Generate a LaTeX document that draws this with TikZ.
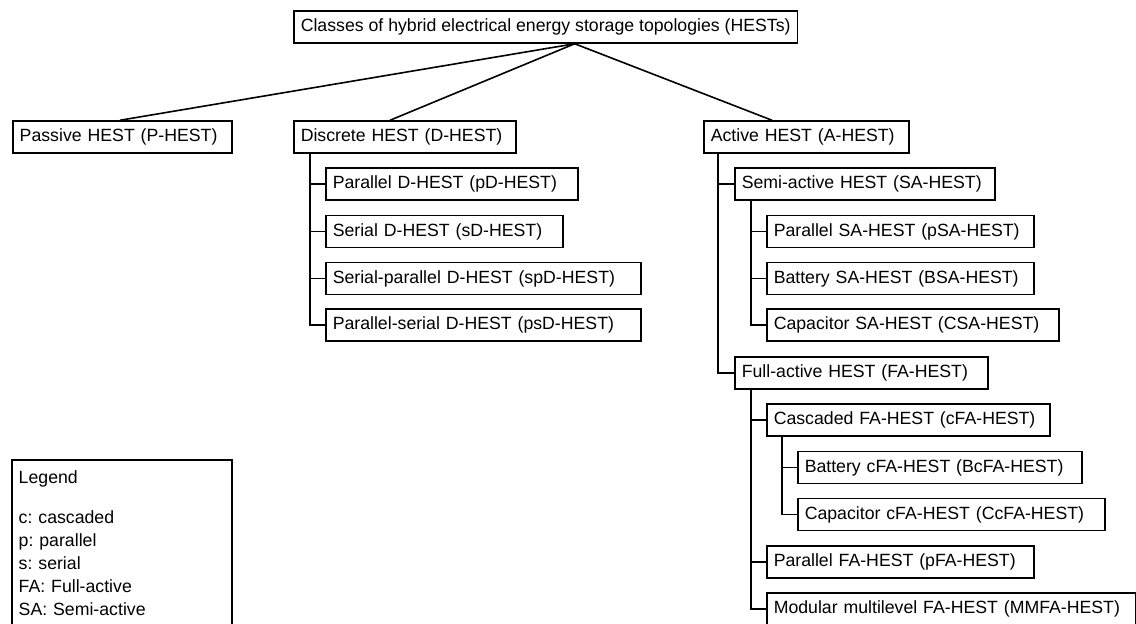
\documentclass[tikz,border=0pt]{standalone}
\usepackage{fontspec}
\setmainfont{Liberation Sans}
\frenchspacing

\begin{document}
\begin{tikzpicture}[x=0.5pt,y=-0.5pt,
                    every node/.style={font=\fontsize{8.85pt}{11.5pt}\selectfont},
                    hbox/.style={draw,line width=0.75pt,anchor=west,align=left,
                                 minimum height=16pt,inner xsep=3.5pt,inner ysep=0pt},
                    link/.style={line width=0.8pt}]
      \clip (0,0) rectangle (1136,623);
      % top level
      \node[hbox] (root) at (293,27)
        {Classes of hybrid electrical energy storage topologies (HESTs)};
      \node[hbox,text width=102.5pt] (passive) at (12,137) {Passive HEST (P-HEST)};
      \node[hbox,text width=104pt] (discrete) at (293,137) {Discrete HEST (D-HEST)};
      \node[hbox,text width=95.5pt] (active) at (703,137) {Active HEST (A-HEST)};
      % discrete branch
      \node[hbox,text width=119pt] (pD) at (325,184) {Parallel D-HEST (pD-HEST)};
      \node[hbox,text width=111.5pt] (sD) at (325,231.5) {Serial D-HEST (sD-HEST)};
      \node[hbox,text width=150.5pt] (spD) at (325,278.5)
        {Serial-parallel D-HEST (spD-HEST)};
      \node[hbox,text width=150.5pt] (psD) at (325,325)
        {Parallel-serial D-HEST (psD-HEST)};
      % active branch
      \node[hbox,text width=123pt] (SA) at (734,184) {Semi-active HEST (SA-HEST)};
      \node[hbox,text width=126.5pt] (pSA) at (766,231.5) {Parallel SA-HEST (pSA-HEST)};
      \node[hbox,text width=126.5pt] (BSA) at (766,278.5) {Battery SA-HEST (BSA-HEST)};
      \node[hbox,text width=139pt] (CSA) at (766,325) {Capacitor SA-HEST (CSA-HEST)};
      \node[hbox,text width=119.5pt] (FA) at (734,373) {Full-active HEST (FA-HEST)};
      \node[hbox,text width=134.5pt] (cFA) at (766,420) {Cascaded FA-HEST (cFA-HEST)};
      \node[hbox,text width=135pt] (BcFA) at (797,467.5) {Battery cFA-HEST (BcFA-HEST)};
      \node[hbox,text width=146.5pt] (CcFA) at (797,514.5)
        {Capacitor cFA-HEST (CcFA-HEST)};
      \node[hbox,text width=126.5pt] (pFA) at (766,562) {Parallel FA-HEST (pFA-HEST)};
      \node[hbox,text width=177.5pt] (MMFA) at (766,609)
        {Modular multilevel FA-HEST (MMFA-HEST)};
      % legend
      \node[draw,line width=0.75pt,anchor=north west,align=left,text width=103pt,
            inner xsep=3.5pt,inner ysep=5.5pt] (legend) at (11,459)
        {Legend\\[8.5pt]c: cascaded\\p: parallel\\s: serial\\FA: Full-active\\SA: Semi-active};
      % connectors
      \coordinate (hub) at ([xshift=14.5pt]root.south);
      \draw[link] (hub)--([xshift=54pt]passive.north west);
      \draw[link] (hub)--([xshift=48.5pt]discrete.north west);
      \draw[link] (hub)--([xshift=34.5pt]active.north west);
      \foreach \c in {pD,sD,spD,psD}
        \draw[link] ([xshift=8.5pt]discrete.south west) |- (\c.west);
      \foreach \c in {SA,FA}
        \draw[link] ([xshift=7.5pt]active.south west) |- (\c.west);
      \foreach \c in {pSA,BSA,CSA}
        \draw[link] ([xshift=8.5pt]SA.south west) |- (\c.west);
      \foreach \c in {cFA,pFA,MMFA}
        \draw[link] ([xshift=8.5pt]FA.south west) |- (\c.west);
      \foreach \c in {BcFA,CcFA}
        \draw[link] ([xshift=8pt]cFA.south west) |- (\c.west);
    \end{tikzpicture}
\end{document}
